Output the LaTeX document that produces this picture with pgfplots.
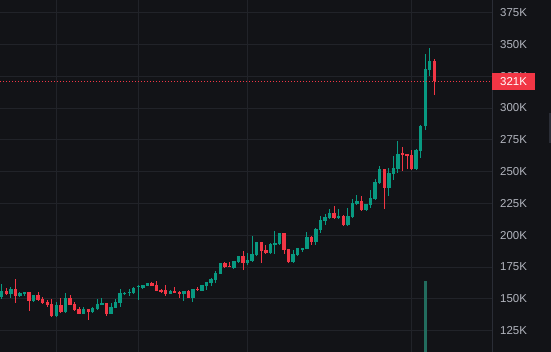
\documentclass[border=0pt]{standalone}
\usepackage{pgfplots}
\pgfplotsset{compat=1.18}
\usepackage{pgfplotstable}
\usepackage{fontspec}
\setmainfont{Liberation Sans}
\definecolor{bgc}{RGB}{18,19,23}
\definecolor{gridc}{RGB}{33,35,41}
\definecolor{sepc}{RGB}{42,45,54}
\definecolor{upc}{RGB}{8,153,129}
\definecolor{dnc}{RGB}{242,54,69}
\definecolor{volc}{RGB}{34,108,94}
\definecolor{lblc}{RGB}{178,181,190}

% up candles: index open high low close (thousands)
\pgfplotstableread{
x o h l c
1 151.4 161.6 149.8 156.1
3 153.8 159.3 150.6 157.7
5 152.2 155.0 151.4 154.6
6 153.8 155.6 152.2 155.3
8 148.3 153.2 147.5 153.0
13 136.5 147.5 136.0 145.1
15 139.6 154.6 139.2 150.6
19 138.0 143.5 137.7 142.0
21 139.6 143.5 139.2 142.8
22 142.0 149.8 141.6 145.9
23 145.9 150.6 145.6 146.7
25 138.0 146.7 137.7 143.5
26 142.8 149.8 142.4 147.5
27 146.7 157.7 143.5 154.6
28 153.8 155.3 153.0 154.6
29 155.0 157.7 152.2 155.5
30 154.6 159.3 153.8 158.5
31 159.3 160.8 149.0 160.1
32 158.5 161.2 157.7 160.8
33 160.1 162.8 159.8 162.4
38 153.8 156.9 153.4 156.1
41 153.8 156.5 148.3 156.1
43 150.6 158.1 147.5 157.7
45 156.1 161.2 155.8 160.8
46 160.1 163.6 156.9 163.2
47 162.4 166.4 160.1 165.6
48 164.8 171.8 162.4 170.3
49 169.5 178.5 169.2 178.1
52 174.2 180.1 173.8 179.7
53 178.9 184.0 178.5 183.6
55 178.1 186.0 176.6 180.5
56 179.7 199.4 178.9 185.2
57 184.4 195.0 184.0 194.6
60 186.0 193.5 185.6 193.1
61 192.3 203.3 185.2 193.9
62 193.1 202.1 192.7 201.7
65 178.9 188.4 178.5 185.2
66 184.4 190.3 183.6 189.9
67 189.2 190.3 186.8 189.9
68 189.2 202.5 188.8 198.6
70 194.6 205.3 192.3 204.9
71 204.1 215.1 201.7 211.9
72 211.2 216.7 208.0 214.3
73 213.5 220.6 212.7 217.5
75 213.5 220.6 212.7 215.1
77 208.0 221.4 207.6 215.1
78 214.3 228.5 213.9 225.3
79 224.5 231.6 223.7 226.9
81 219.8 224.9 219.4 224.5
82 223.7 235.5 221.4 229.2
83 228.5 244.2 227.7 241.8
84 241.0 254.4 240.2 252.0
86 237.1 252.8 230.8 248.9
87 248.1 262.3 243.4 252.8
88 252.0 274.0 248.9 263.8
92 252.0 267.8 251.6 267.0
93 266.2 287.0 260.7 285.8
94 285.8 342.5 282.7 330.7
95 329.9 347.2 325.2 337.0
}\upT

% down candles
\pgfplotstableread{
x o h l c
2 156.1 158.5 153.0 153.8
4 157.7 165.6 146.7 152.2
7 155.3 155.6 140.4 148.3
9 153.0 155.3 148.3 149.0
10 149.8 151.4 145.9 146.7
11 147.5 149.0 143.5 145.1
12 145.9 149.8 136.0 136.5
14 145.1 150.6 139.2 139.6
16 150.6 153.0 144.8 145.1
17 145.9 147.5 140.8 141.2
18 142.0 143.5 137.7 138.0
20 142.0 142.2 133.3 139.6
24 146.7 147.0 136.5 138.0
34 162.4 163.2 159.8 160.1
35 160.8 164.0 155.8 156.1
36 156.4 157.7 154.6 156.1
37 156.9 160.8 152.2 153.8
39 156.1 159.3 155.0 155.3
40 155.3 156.1 150.6 153.8
42 156.1 156.9 150.3 150.6
44 157.9 159.3 156.1 157.5
50 178.1 178.9 174.6 175.0
51 175.8 178.9 175.0 175.5
54 183.6 187.6 172.6 178.1
58 194.6 195.0 178.1 187.6
59 188.4 192.3 185.2 186.0
63 201.7 202.1 185.2 188.4
64 189.2 189.5 178.5 178.9
69 198.6 199.0 192.3 194.6
74 217.5 222.9 213.1 213.5
76 215.1 215.5 207.6 208.0
80 226.9 230.8 219.4 219.8
85 252.0 252.4 220.6 237.1
89 264.2 269.3 250.5 263.8
90 263.8 264.2 252.0 263.0
91 263.0 267.0 251.6 252.0
96 337.0 338.5 310.2 321.0
}\dnT

\pgfplotsset{
  wick/.style={draw=none, mark=none, forget plot,
    error bars/.cd, y dir=both, y explicit,
    error mark=none, error bar style={line width=1bp, draw=#1, solid}},
  body/.style={draw=none, mark=none, forget plot,
    error bars/.cd, y dir=both, y explicit,
    error mark=none, error bar style={line width=3.4bp, draw=#1, solid}},
}

\begin{document}
\begin{tikzpicture}
\useasboundingbox (0,0) rectangle (551bp,352bp);
\fill[bgc] (0,0) rectangle (551bp,352bp);
\begin{axis}[name=main,
  at={(0,0)}, anchor=south west, width=492bp, height=352bp, scale only axis,
  xmin=0.627, xmax=108.66, ymin=108.2, ymax=384.9,
  axis line style={draw=none},
  major tick length=0pt,
  xtick={13,31,55,91}, xticklabels={},
  ytick={125,150,...,375},
  yticklabel pos=right,
  yticklabel={\pgfmathparse{int(\tick)}\pgfmathresult K},
  yticklabel style={anchor=west, inner sep=0pt, xshift=8bp,
    font=\fontsize{11.5}{13}\selectfont, text=lblc},
  grid=major, grid style={draw=gridc, line width=1bp},
]
\addplot[wick=upc] table[x=x, y expr={(\thisrow{h}+\thisrow{l})/2},
  y error expr={(\thisrow{h}-\thisrow{l})/2}] {\upT};
\addplot[wick=dnc] table[x=x, y expr={(\thisrow{h}+\thisrow{l})/2},
  y error expr={(\thisrow{h}-\thisrow{l})/2}] {\dnT};
\addplot[body=upc] table[x=x, y expr={(\thisrow{o}+\thisrow{c})/2},
  y error expr={max(abs(\thisrow{o}-\thisrow{c})/2,0.4)}] {\upT};
\addplot[body=dnc] table[x=x, y expr={(\thisrow{o}+\thisrow{c})/2},
  y error expr={max(abs(\thisrow{o}-\thisrow{c})/2,0.4)}] {\dnT};
\draw[dnc, line width=0.8bp, dash pattern=on 1bp off 2bp]
  (axis cs:0.627,321) -- (axis cs:108.66,321);
\coordinate (pr) at (axis cs:108.66,321);
\end{axis}
\begin{axis}[at={(0,0)}, anchor=south west, width=492bp, height=352bp,
  scale only axis, xmin=0.627, xmax=108.66, ymin=0, ymax=100, hide axis]
\addplot[ycomb, line width=3.2bp, draw=volc] coordinates {(94,20.2)};
\end{axis}
\draw[sepc, line width=1bp] (main.south east) -- (main.north east);
\fill[dnc] ([yshift=-8.5bp]pr) rectangle ([xshift=43bp,yshift=8.5bp]pr);
\node[anchor=west, inner sep=0pt, text=white, font=\fontsize{11.5}{13}\selectfont]
  at ([xshift=8bp]pr) {321K};
\fill[sepc] (549bp,209bp) rectangle (551bp,239bp);
\end{tikzpicture}
\end{document}
